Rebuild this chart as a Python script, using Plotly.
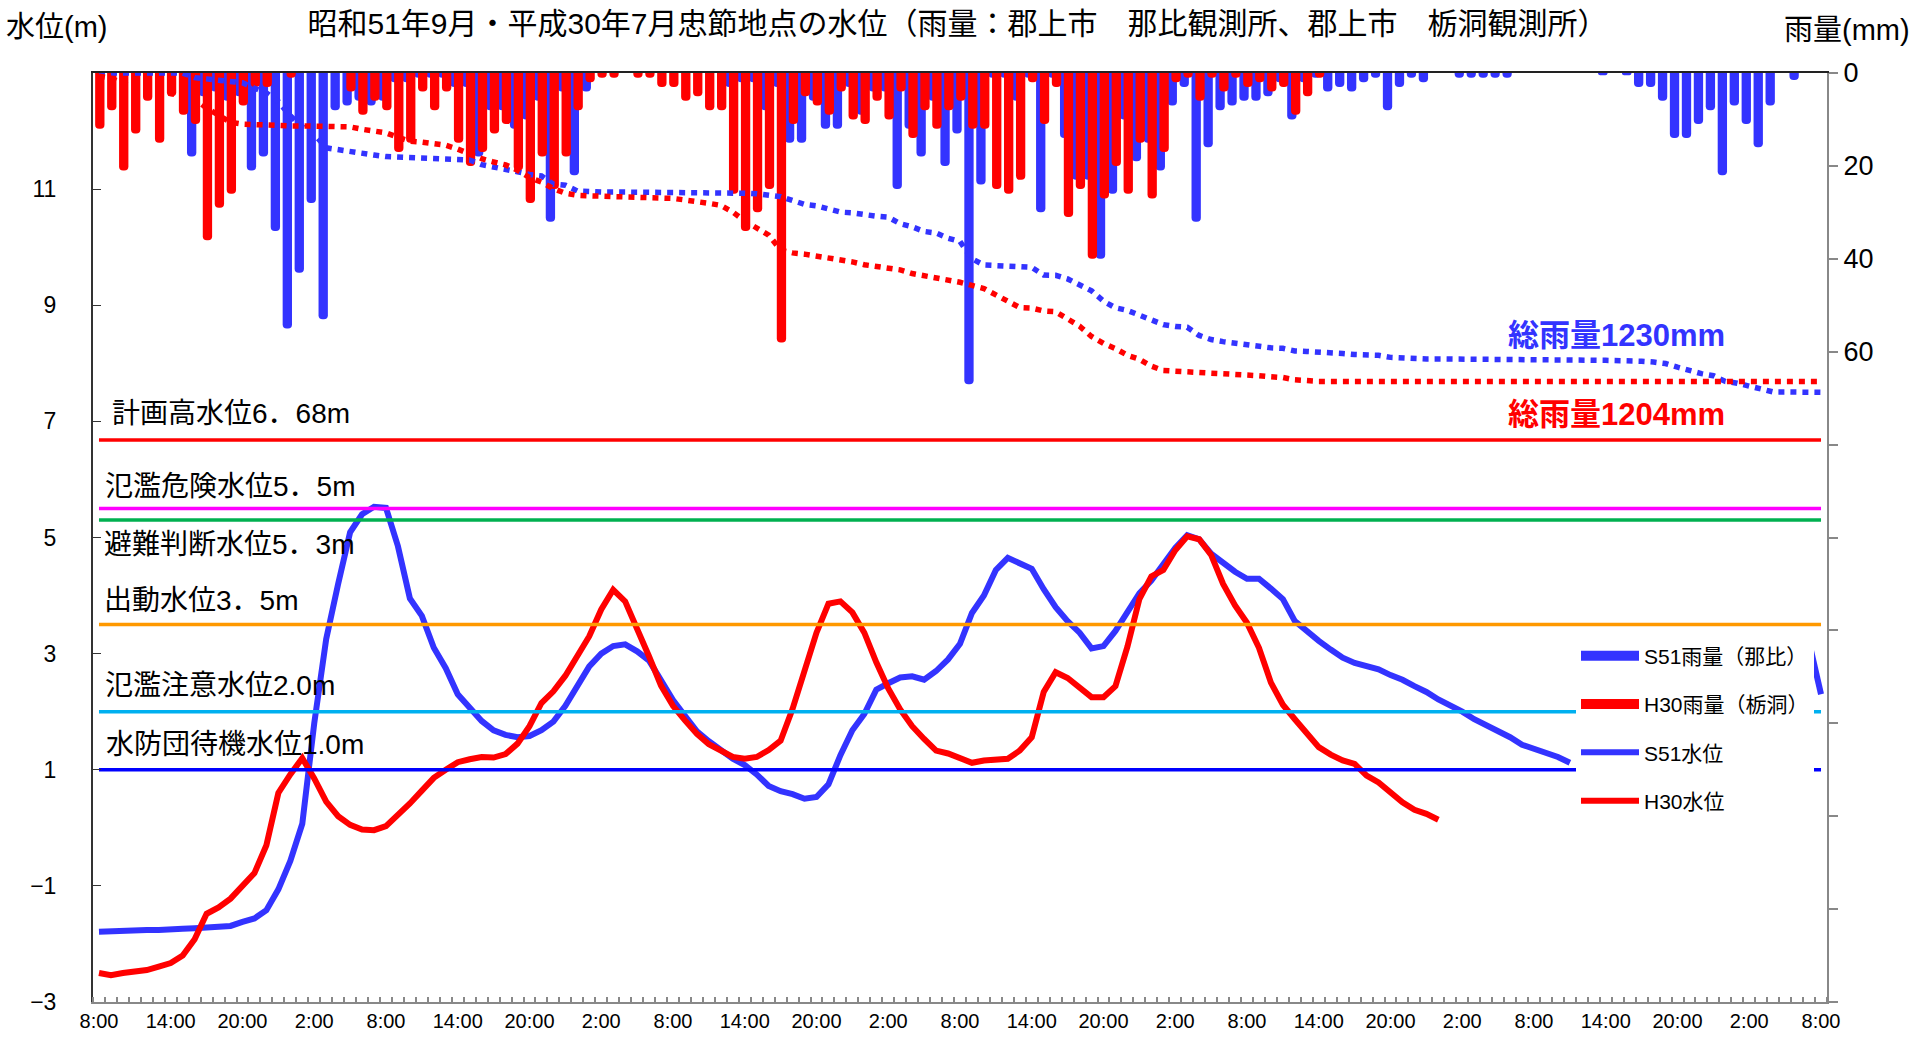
import numpy as np
import plotly.graph_objects as go

# ---------------- data ----------------
hours = list(range(145))                      # hourly categories 8:00 .. 8:00 (+6 days)
x_tick_pos = list(range(0, 145, 6))
x_tick_labels = ["8:00", "14:00", "20:00", "2:00"] * 6 + ["8:00"]

# hourly rainfall (mm)
rain_s51 = [0, 0, 0, 0, 0, 0, 0, 0,
            18, 5, 4, 6, 5, 21, 18, 34,
            55, 43, 28, 53, 8, 7, 6, 7,
            6, 2, 2, 1, 1, 1, 3, 3,
            18, 8, 8, 12, 10, 6, 32, 4,
            22, 4, 0, 0, 0, 0, 0, 0,
            0, 0, 0, 0, 0, 3, 2, 2,
            8, 3, 15, 15, 6, 12, 12, 3,
            9, 4, 4, 25, 12, 18, 6, 20,
            13, 67, 24, 1, 1, 6, 1, 30,
            1, 14, 23, 23, 40, 26, 10, 19,
            15, 21, 7, 3, 32, 16, 8, 7,
            6, 6, 5, 2, 10, 2, 1, 4,
            3, 4, 2, 1, 8, 3, 1, 2,
            0, 0, 1, 1, 1, 1, 1, 0,
            0, 0, 0, 0, 0, 0, 0.5, 0,
            0.5, 3, 3, 6, 14, 14, 11, 8,
            22, 7, 11, 16, 7, 0, 1.5, 0,
            0]
rain_h30 = [12, 8, 21, 13, 6, 15, 5, 9,
            11, 36, 29, 26, 7, 3, 3, 0,
            1, 0, 0, 0, 0, 4, 9, 6,
            8, 17, 15, 4, 8, 4, 15, 20,
            17, 13, 11, 21, 28, 18, 25, 18,
            8, 2, 1, 1, 0, 1, 1, 3,
            3, 6, 5, 8, 8, 26, 34, 30,
            25, 58, 11, 5, 7, 9, 4, 10,
            11, 6, 10, 4, 14, 8, 12, 8,
            6, 12, 12, 25, 26, 23, 2, 11,
            3, 31, 25, 40, 27, 20, 26, 15,
            27, 17, 2, 1, 6, 1, 4, 1,
            3, 2, 4, 3, 9, 5, 1, 0,
            0, 0, 0, 0, 0, 0, 0, 0,
            0, 0, 0, 0, 0, 0, 0, 0,
            0, 0, 0, 0, 0, 0, 0, 0,
            0, 0, 0, 0, 0, 0, 0, 0,
            0, 0, 0, 0, 0, 0, 0, 0,
            0]

# hourly water level (m)
level_s51 = [-1.79, -1.78, -1.76, -1.76, -1.76, -1.76, -1.76, -1.74,
             -1.73, -1.72, -1.71, -1.69, -1.62, -1.56, -1.42, -1.06,
             -0.57, 0.07, 1.8, 3.25, 4.2, 5.09, 5.4, 5.53,
             5.51, 4.85, 3.95, 3.65, 3.1, 2.75, 2.3, 2.08,
             1.84, 1.68, 1.6, 1.56, 1.58, 1.68, 1.83, 2.1,
             2.45, 2.78, 3.0, 3.13, 3.16, 3.04, 2.88, 2.55,
             2.2, 1.93, 1.66, 1.49, 1.33, 1.19, 1.08, 0.92,
             0.72, 0.63, 0.58, 0.5, 0.53, 0.75, 1.25, 1.68,
             1.96, 2.38, 2.49, 2.59, 2.61, 2.55, 2.7, 2.9,
             3.17, 3.7, 4.0, 4.44, 4.65, 4.56, 4.46, 4.11,
             3.8, 3.56, 3.36, 3.09, 3.13, 3.39, 3.7, 4.04,
             4.26, 4.55, 4.82, 5.04, 4.97, 4.72, 4.55, 4.41,
             4.29, 4.29, 4.12, 3.94, 3.56, 3.38, 3.22, 3.07,
             2.93, 2.84, 2.78, 2.73, 2.63, 2.55, 2.44, 2.34,
             2.21, 2.11, 2.0, 1.87, 1.77, 1.66, 1.56, 1.43,
             1.36, 1.31, 1.22, 1.12, None, None, None, None,
             None, None, None, None, None, None, None, None,
             None, None, None, None, None, None, None, 3.2,
             2.3]
level_h30 = [-2.5, -2.54, -2.5, -2.48, -2.45, -2.39, -2.33, -2.2,
             -1.92, -1.48, -1.37, -1.22, -1.0, -0.78, -0.3, 0.6,
             0.92, 1.2, 0.85, 0.45, 0.2, 0.05, -0.03, -0.04,
             0.03, 0.22, 0.42, 0.64, 0.86, 1.0, 1.13, 1.18,
             1.22, 1.21, 1.27, 1.45, 1.75, 2.15, 2.35, 2.62,
             2.95, 3.3, 3.76, 4.1, 3.9, 3.45, 2.95, 2.45,
             2.1, 1.85, 1.62, 1.44, 1.34, 1.22, 1.19, 1.22,
             1.34, 1.5, 2.05, 2.72, 3.36, 3.86, 3.9, 3.71,
             3.36, 2.85, 2.4, 2.04, 1.75, 1.53, 1.33, 1.28,
             1.2, 1.12, 1.16, 1.17, 1.19, 1.33, 1.56, 2.34,
             2.68, 2.58, 2.42, 2.25, 2.25, 2.44, 3.12, 3.94,
             4.33, 4.44, 4.78, 5.02, 4.97, 4.7, 4.2, 3.83,
             3.53, 3.1, 2.5, 2.12, 1.87, 1.62, 1.39, 1.26,
             1.16, 1.1, 0.9, 0.78, 0.6, 0.44, 0.31, 0.24,
             0.14] + [None] * 32

threshold_labels = ["計画高水位6．68m", "氾濫危険水位5．5m", "避難判断水位5．3m",
                    "出動水位3．5m", "氾濫注意水位2.0m", "水防団待機水位1.0m"]
threshold_values = [6.68, 5.5, 5.3, 3.5, 2.0, 1.0]
total_labels = ["総雨量1230mm", "総雨量1204mm"]

# ---------------- styling ----------------
BLUE = "#3333FF"
RED = "#FF0000"
threshold_colors = ["#FF0000", "#FF00FF", "#00B050", "#FF9900", "#00B0F0", "#0000FF"]
FONT = "Liberation Sans, Noto Sans CJK JP, sans-serif"

W, H = 1915, 1044
L, R, T, B = 93, 1827, 73, 1006


def px(x):
    return (x - L) / (R - L)


def py(y):
    return (B - y) / (B - T)


fig = go.Figure()

# water levels
fig.add_trace(go.Scatter(x=hours, y=level_s51, mode="lines", name="S51水位",
                         line=dict(color=BLUE, width=6), connectgaps=False,
                         legendgroup="c", legendrank=3))
fig.add_trace(go.Scatter(x=hours, y=level_h30, mode="lines", name="H30水位",
                         line=dict(color=RED, width=6), connectgaps=False,
                         legendgroup="d", legendrank=4))

# threshold lines
for v, c in zip(threshold_values, threshold_colors):
    fig.add_trace(go.Scatter(x=[hours[0], hours[-1]], y=[v, v], mode="lines",
                             line=dict(color=c, width=3.5), showlegend=False,
                             hoverinfo="skip"))

# rainfall bars
fig.add_trace(go.Bar(x=hours, y=rain_s51, xaxis="x2", yaxis="y2", width=0.78, offset=-0.64,
                     marker=dict(color=BLUE, line=dict(width=0), cornerradius=4),
                     showlegend=False, name="S51雨量（那比）"))
fig.add_trace(go.Bar(x=hours, y=rain_h30, xaxis="x2", yaxis="y2", width=0.78, offset=-0.32,
                     marker=dict(color=RED, line=dict(width=0), cornerradius=4),
                     showlegend=False, name="H30雨量（栃洞）"))

# cumulative rainfall
fig.add_trace(go.Scatter(x=hours, y=np.cumsum(rain_s51), xaxis="x2", yaxis="y3", mode="lines",
                         line=dict(color=BLUE, width=5.5, dash="6px,6px"), showlegend=False))
fig.add_trace(go.Scatter(x=hours, y=np.cumsum(rain_h30), xaxis="x2", yaxis="y3", mode="lines",
                         line=dict(color=RED, width=5.5, dash="6px,6px"), showlegend=False))

# legend entries for the bars
fig.add_trace(go.Scatter(x=[None], y=[None], mode="lines", name="S51雨量（那比）",
                         line=dict(color=BLUE, width=10), legendgroup="a", legendrank=1))
fig.add_trace(go.Scatter(x=[None], y=[None], mode="lines", name="H30雨量（栃洞）",
                         line=dict(color=RED, width=10), legendgroup="b", legendrank=2))

annotations = []
# threshold labels
lab_pos = [(110, 415), (103, 488), (102, 547), (102, 603), (103, 688), (104, 747)]
for text, (xx, yy) in zip(threshold_labels, lab_pos):
    annotations.append(dict(text=text, x=px(xx), y=py(yy), xref="paper", yref="paper",
                            xanchor="left", yanchor="middle", showarrow=False,
                            font=dict(family=FONT, size=28, color="black")))
# totals
for text, col, yy in zip(total_labels, [BLUE, RED], [337, 416]):
    annotations.append(dict(text="<b>" + text + "</b>", x=px(1506), y=py(yy), xref="paper", yref="paper",
                            xanchor="left", yanchor="middle", showarrow=False,
                            font=dict(family=FONT, size=31, color=col)))
# axis titles
annotations.append(dict(text="水位(m)", x=px(4), y=py(27), xref="paper", yref="paper", showarrow=False,
                        xanchor="left", yanchor="middle", font=dict(family=FONT, size=29, color="black")))
annotations.append(dict(text="雨量(mm)", x=px(1912), y=py(30), xref="paper", yref="paper", showarrow=False,
                        xanchor="right", yanchor="middle", font=dict(family=FONT, size=29, color="black")))

fig.update_layout(
    width=W, height=H,
    margin=dict(l=L, r=W - R, t=T, b=H - B, pad=0),
    paper_bgcolor="white", plot_bgcolor="white",
    barmode="overlay",
    showlegend=True,
    title=dict(text="昭和51年9月・平成30年7月忠節地点の水位（雨量：郡上市　那比観測所、郡上市　栃洞観測所）",
               x=0.5, xanchor="center", y=1 - 23 / H, yanchor="middle",
               font=dict(family=FONT, size=30, color="black")),
    legend=dict(x=px(1576), y=py(638), xanchor="left", yanchor="top",
                bgcolor="white", borderwidth=0, tracegroupgap=18, itemwidth=58,
                font=dict(family=FONT, size=21, color="black")),
    xaxis=dict(range=[-0.5, 144.5], tickmode="array", tickvals=x_tick_pos, ticktext=x_tick_labels,
               ticks="", showgrid=False, zeroline=False, showline=True, linecolor="#888888",
               linewidth=2, tickfont=dict(family=FONT, size=20, color="black"),
               minor=dict(tickmode="array", tickvals=[h - 0.5 for h in hours] + [hours[-1] + 0.5],
                          ticks="inside", ticklen=5, tickcolor="#888888", tickwidth=1.5)),
    xaxis2=dict(range=[-0.5, 144.5], overlaying="x", side="top", anchor="y2",
                showticklabels=False, ticks="", showgrid=False, zeroline=False,
                showline=True, linecolor="#222222", linewidth=2),
    yaxis=dict(range=[-3, 13], tickvals=[-3, -1, 1, 3, 5, 7, 9, 11], ticktext=["−3", "−1", "1", "3", "5", "7", "9", "11"],
               ticks="inside", ticklen=8, tickcolor="#333333", showgrid=False, zeroline=False,
               showline=True, linecolor="#333333", linewidth=2, ticklabelstandoff=30,
               tickfont=dict(family=FONT, size=23, color="black")),
    yaxis2=dict(range=[200, 0], overlaying="y", side="right", anchor="x",
                tickvals=list(range(0, 201, 20)), ticktext=["0", "20", "40", "60"] + [""] * 7,
                ticks="outside", ticklen=9, tickcolor="#888888", tickwidth=1.5,
                showgrid=False, zeroline=False, showline=True, linecolor="#888888", linewidth=2,
                tickfont=dict(family=FONT, size=27, color="black")),
    yaxis3=dict(range=[3600, 0], overlaying="y", visible=False, showgrid=False, zeroline=False),
    annotations=annotations,
)

fig.write_html("out.html", config={"displayModeBar": False},
               post_script="document.body.style.margin='0';document.body.style.overflow='hidden';")
